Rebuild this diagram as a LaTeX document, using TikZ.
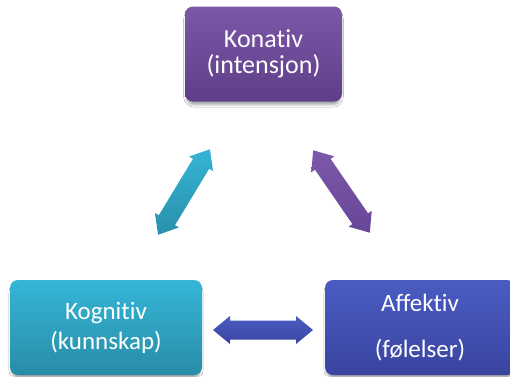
\documentclass[tikz,border=0pt]{standalone}
\usepackage{fontspec}
\setmainfont{Carlito}[Ligatures={NoCommon}]
\usetikzlibrary{shadows.blur}
\definecolor{kontop}{RGB}{124,88,168}
\definecolor{konbot}{RGB}{94,62,136}
\definecolor{kogtop}{RGB}{54,182,216}
\definecolor{kogbot}{RGB}{40,140,166}
\definecolor{afftop}{RGB}{74,92,194}
\definecolor{affbot}{RGB}{58,68,160}
\definecolor{lattop}{RGB}{54,180,212}
\definecolor{latbot}{RGB}{40,144,172}
\definecolor{rattop}{RGB}{124,88,170}
\definecolor{ratbot}{RGB}{104,70,152}
\tikzset{
  box/.style={rounded corners=8pt, minimum width=#1, minimum height=95pt,
    text=white, align=center, inner sep=0pt,
    blur shadow={shadow xshift=0pt, shadow yshift=-4pt, shadow blur radius=2.5pt,
      shadow scale=0.985, shadow opacity=35}},
  dblarrow/.pic={
    \path[pic actions] (-50,0) -- (-33,14) -- (-33,9.5) -- (33,9.5) -- (33,14)
      -- (50,0) -- (33,-14) -- (33,-9.5) -- (-33,-9.5) -- (-33,-14) -- cycle;
  },
  arrowshadow/.style={blur shadow={shadow xshift=1pt, shadow yshift=-3pt,
      shadow blur radius=2.5pt, shadow opacity=25}}
}
\begin{document}
\begin{tikzpicture}[x=1pt,y=1pt]
\useasboundingbox (0,0) rectangle (510,376);
\clip (0,0) rectangle (510,376);
\fill[white] (0,0) rectangle (510,376);
% boxes
\node[box=157pt, top color=kontop, bottom color=konbot,
  font=\fontsize{26}{26}\selectfont] (kon) at (263.5,322) {Konativ\\(intensjon)};
\node[box=192pt, top color=kogtop, bottom color=kogbot,
  font=\fontsize{25}{30}\selectfont] (kog) at (106,48.5) {Kognitiv\\(kunnskap)};
\node[box=190pt, top color=afftop, bottom color=affbot,
  font=\fontsize{25}{46}\selectfont] (aff) at (420,48.5) {Affektiv\\(følelser)};
% connectors
\coordinate (hmid) at (263,46);
\coordinate (lmid) at (184,184);
\coordinate (rmid) at (341.5,184.5);
\pic[top color=afftop, bottom color=affbot, arrowshadow] at (hmid) {dblarrow};
\pic[rotate=58.8, top color=lattop, bottom color=latbot, arrowshadow] at (lmid) {dblarrow};
\pic[rotate=-55.5, top color=rattop, bottom color=ratbot, arrowshadow] at (rmid) {dblarrow};
\end{tikzpicture}
\end{document}
